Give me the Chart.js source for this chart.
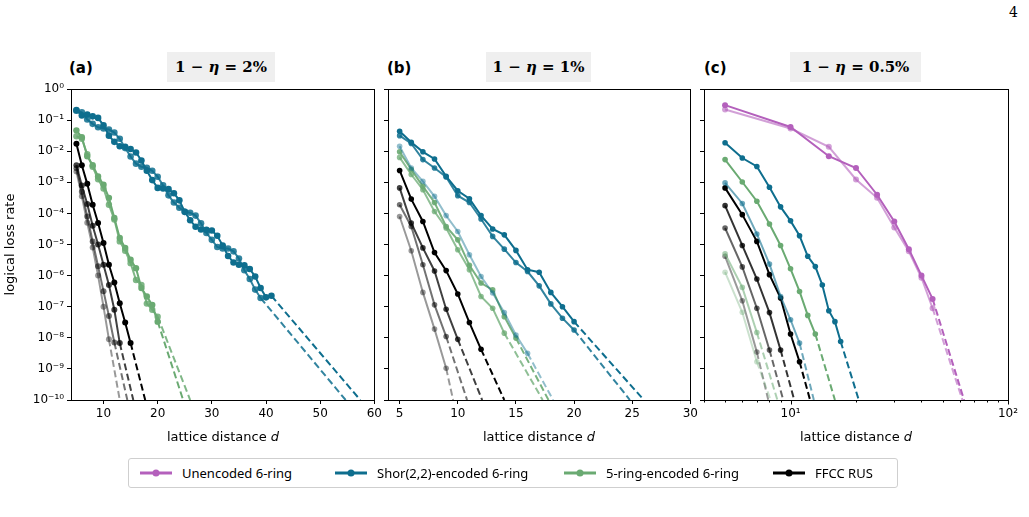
<!DOCTYPE html>
<html>
<head>
<meta charset="utf-8">
<script src="https://cdn.jsdelivr.net/npm/chart.js@4.4.1/dist/chart.umd.min.js"></script>
<style>
  body { margin: 0; width: 1029px; height: 517px; background: #fff; position: relative; overflow: hidden; font-family: "DejaVu Sans", sans-serif; color: #000; }
  canvas { position: absolute; top: 0; }
  .panel { position: absolute; top: 59px; font-size: 15px; font-weight: bold; }
  .eq { position: absolute; top: 52px; height: 30px; line-height: 30px; background: #efefef; text-align: center; font-family: "DejaVu Serif", serif; font-weight: bold; font-size: 15px; }
  .xt { position: absolute; top: 429px; width: 300px; text-align: center; font-size: 13px; }
  .pg { position: absolute; left: 1009px; top: 4px; font-family: "DejaVu Serif", serif; font-size: 14px; }
  #legend { position: absolute; left: 128px; top: 458px; width: 770px; height: 30px; border: 1px solid #cfcfcf; border-radius: 3px; box-sizing: border-box; font-family: "Noto Sans", sans-serif; font-size: 13px; }
  .key { position: absolute; top: 9px; }
  .ktxt { position: absolute; top: 5px; }
</style>
</head>
<body>
<div class="pg">4</div>
<div class="panel" style="left:69px">(a)</div>
<div class="panel" style="left:387px">(b)</div>
<div class="panel" style="left:704px">(c)</div>
<div class="eq" style="left:167px;width:108px">1 − <i>η</i> = 2%</div>
<div class="eq" style="left:486px;width:105px">1 − <i>η</i> = 1%</div>
<div class="eq" style="left:790px;width:131px">1 − <i>η</i> = 0.5%</div>

<canvas id="pa" width="385" height="450" style="left:0px"></canvas>
<canvas id="pb" width="322" height="450" style="left:379px"></canvas>
<canvas id="pc" width="333" height="450" style="left:696px"></canvas>

<div class="xt" style="left:73px">lattice distance <i>d</i></div>
<div class="xt" style="left:389px">lattice distance <i>d</i></div>
<div class="xt" style="left:706px">lattice distance <i>d</i></div>

<div id="legend">
  <svg class="key" style="left:11px" width="32" height="10"><line x1="0" y1="5" x2="32" y2="5" stroke="rgb(180,96,188)" stroke-width="3"/><circle cx="16" cy="5" r="3.5" fill="rgb(180,96,188)"/></svg>
  <span class="ktxt" style="left:53px">Unencoded 6-ring</span>
  <svg class="key" style="left:206px" width="32" height="10"><line x1="0" y1="5" x2="32" y2="5" stroke="rgb(14,110,142)" stroke-width="3"/><circle cx="16" cy="5" r="3.5" fill="rgb(14,110,142)"/></svg>
  <span class="ktxt" style="left:248px">Shor(2,2)-encoded 6-ring</span>
  <svg class="key" style="left:435px" width="32" height="10"><line x1="0" y1="5" x2="32" y2="5" stroke="rgb(106,170,114)" stroke-width="3"/><circle cx="16" cy="5" r="3.5" fill="rgb(106,170,114)"/></svg>
  <span class="ktxt" style="left:477px">5-ring-encoded 6-ring</span>
  <svg class="key" style="left:644px" width="32" height="10"><line x1="0" y1="5" x2="32" y2="5" stroke="#000" stroke-width="3"/><circle cx="16" cy="5" r="3.5" fill="#000"/></svg>
  <span class="ktxt" style="left:686px">FFCC RUS</span>
</div>

<script>
// axis ticks
const yExps = [0, -1, -2, -3, -4, -5, -6, -7, -8, -9, -10];
const yLabels = ["10⁰", "10⁻¹", "10⁻²", "10⁻³", "10⁻⁴", "10⁻⁵", "10⁻⁶", "10⁻⁷", "10⁻⁸", "10⁻⁹", "10⁻¹⁰"];
const xTicksA = [10, 20, 30, 40, 50, 60];
const xTicksB = [5, 10, 15, 20, 25, 30];
const xTicksC = [4, 5, 6, 7, 8, 9, 10, 20, 30, 40, 50, 60, 70, 80, 90, 100];
const xMajorC = [10, 100];
const xMajorLabelsC = ["10¹", "10²"];

// lattice distances
const dInt = [5, 6, 7, 8, 9, 10, 11, 12, 13, 14, 15, 16, 17, 18, 19, 20, 21, 22, 23, 24,
  25, 26, 27, 28, 29, 30, 31, 32, 33, 34, 35, 36, 37, 38, 39, 40, 41];
const dPurple = [5, 10, 15, 20, 25, 30, 35, 40, 45];

// colours
const purple = "180,96,188";
const teal = "14,110,142";
const green = "106,170,114";
const black = "0,0,0";

// (a) 1-eta = 2%, log10 of logical loss rate
const aTealDark = [-0.68, -0.85, -0.82, -0.88, -0.93, -1.17, -1.50, -1.70, -1.84, -1.86, -1.93, -2.04, -2.30,
  -2.63, -2.93, -3.18, -3.20, -3.22, -3.35, -3.58, -3.95, -4.22, -4.43, -4.52, -4.53, -4.55, -4.72, -5.03,
  -5.37, -5.58, -5.65, -5.67, -5.79, -6.03, -6.40, -6.70, -6.65];
const aTealLight = [-0.70, -0.75, -0.98, -1.12, -1.23, -1.27, -1.30, -1.40, -1.60, -1.90, -2.17, -2.40, -2.50,
  -2.53, -2.63, -2.82, -3.10, -3.42, -3.65, -3.82, -3.95, -3.98, -4.07, -4.32, -4.63, -4.85, -5.08, -5.13,
  -5.13, -5.22, -5.45, -5.83, -6.11, -6.45, -6.72];
const aGreen1 = [-1.33, -1.55, -2.16, -2.45, -2.81, -3.08, -3.50, -4.15, -4.79, -5.11, -5.49, -5.76, -6.40, -6.67, -6.94, -7.48];
const aGreen2 = [-1.52, -1.60, -2.10, -2.50, -2.90, -3.20, -3.72, -4.20, -4.90, -5.20, -5.60, -6.14, -6.30, -6.90, -7.10, -7.32];
const aBlack1 = [-1.76, -2.45, -3.05, -3.72, -4.31, -4.95, -5.65, -6.22, -6.89, -7.51, -8.17];
const aBlack2 = [-2.45, -3.10, -3.70, -4.40, -5.00, -5.65, -6.30, -7.10, -8.17];
const aBlack3 = [-2.55, -3.30, -4.10, -4.90, -5.70, -6.50, -7.30, -8.15];
const aBlack4 = [-2.65, -3.45, -4.30, -5.10, -6.00, -7.00, -8.05];
// distance where each dashed fit reaches 1e-10
const aTails = [57.4, 54.7, 24.7, 26.0, 17.7, 15.5, 14.4, 13.0];

// (b) 1-eta = 1%
const bTealDark = [-1.36, -1.71, -2.02, -2.25, -2.81, -3.27, -3.53, -4.07, -4.50, -4.69, -5.19, -5.81, -5.89, -6.54, -7.00, -7.48];
const bTealMid = [-1.50, -1.75, -2.27, -2.54, -2.83, -3.43, -3.65, -4.18, -4.74, -5.15, -5.58, -5.87, -6.33, -6.91, -7.37, -7.75];
const bTealLight = [-1.84, -2.54, -2.97, -3.45, -4.07, -4.58, -5.33, -6.03, -6.56, -7.19, -7.91, -8.50];
const bGreen1 = [-2.02, -2.59, -3.13, -3.65, -4.42, -4.85, -5.67, -6.24, -6.46, -7.32, -8.01];
const bGreen2 = [-2.20, -2.75, -3.24, -3.94, -4.47, -5.17, -5.81, -6.67, -7.05, -7.85];
const bBlack1 = [-2.62, -3.54, -4.26, -5.26, -5.84, -6.59, -7.51, -8.37];
const bBlack2 = [-3.18, -4.31, -5.11, -5.85, -7.08, -8.05];
const bBlack3 = [-3.72, -4.42, -5.65, -6.94, -7.96];
const bBlack4 = [-4.10, -5.20, -6.54, -7.72, -8.98];
const bTails = [26.0, 24.8, 18.2, 17.8, 17.3, 14.0, 12.1, 10.8, 9.6];

// (c) 1-eta = 0.5%
const cPurple1 = [-0.52, -1.22, -2.16, -2.54, -3.40, -4.26, -5.15, -6.00, -6.75];
const cPurple2 = [-0.66, -1.27, -1.86, -2.91, -3.50, -4.45, -5.22, -6.07, -7.05];
const cTealDark = [-1.73, -2.22, -2.49, -3.16, -3.79, -4.24, -4.72, -5.38, -5.71, -6.30, -7.13, -7.48, -8.12];
const cTealLight = [-3.02, -3.68, -4.66, -5.63, -6.67, -7.42, -8.17];
const cGreenDark = [-2.27, -2.99, -3.61, -4.34, -5.03, -5.78, -6.51, -7.28, -7.88];
const cGreenLight = [-5.30, -6.38, -7.83];
const cGreenFaint = [-5.89, -7.18, -8.77];
const cBlack1 = [-3.18, -4.04, -4.90, -5.97, -6.72, -7.88, -8.77];
const cBlack2 = [-3.75, -5.03, -6.11, -7.19, -8.39];
const cBlack3 = [-4.47, -5.72, -7.05, -8.39];
const cBlack4 = [-5.38, -6.81, -8.46];
const cTails = [62.8, 61.7, 20.6, 12.8, 16.0, 8.7, 8.1, 12.3, 10.4, 9.26, 7.9];

function makeSeries(ds, logs, color, alpha, tailEnd, radius) {
  const c = "rgba(" + color + "," + alpha + ")";
  const pts = logs.map((v, i) => ({ x: ds[i], y: Math.pow(10, v) }));
  const last = pts[pts.length - 1];
  return [
    { data: pts, borderColor: c, backgroundColor: c, borderWidth: 2, pointRadius: radius, pointBorderWidth: 0, pointHoverRadius: radius },
    { data: [last, { x: tailEnd, y: 1e-10 }], borderColor: c, borderWidth: 2, borderDash: [7, 3.5], pointRadius: 0 },
  ];
}

const frame = {
  id: "frame",
  afterDraw(chart) {
    const a = chart.chartArea;
    const ctx = chart.ctx;
    ctx.save();
    ctx.strokeStyle = "#000";
    ctx.lineWidth = 1;
    ctx.strokeRect(Math.round(a.left) + 0.5, Math.round(a.top) + 0.5, Math.round(a.right - a.left), Math.round(a.bottom - a.top));
    if (chart.canvas.id === "pc") {
      const sx = chart.scales.x;
      xTicksC.forEach((v) => {
        const x = Math.round(sx.getPixelForValue(v)) + 0.5;
        const len = xMajorC.includes(v) ? 4 : 2;
        ctx.beginPath();
        ctx.moveTo(x, Math.round(a.bottom) + 0.5);
        ctx.lineTo(x, Math.round(a.bottom) + 0.5 + len);
        ctx.stroke();
      });
    }
    ctx.restore();
  },
};

function yScale(showLabels, width) {
  return {
    type: "logarithmic",
    min: 1e-10,
    max: 1,
    afterBuildTicks: (s) => { s.ticks = yExps.map((e) => ({ value: Math.pow(10, e) })); },
    afterFit: (s) => { s.width = width; },
    ticks: {
      autoSkip: false,
      color: "#000",
      padding: 3,
      font: { family: "DejaVu Sans", size: 12 },
      callback: (v, i) => (showLabels ? yLabels[i] : ""),
    },
    grid: { drawOnChartArea: false, tickLength: 4, color: "#000" },
    border: { color: "#000" },
    title: { display: showLabels, text: "logical loss rate", color: "#000", font: { family: "DejaVu Sans", size: 13 }, padding: 3 },
  };
}

function xScale(type, min, max, tickVals, labelFn, drawTicks) {
  return {
    type: type,
    min: min,
    max: max,
    afterBuildTicks: (s) => { s.ticks = tickVals.map((v) => ({ value: v })); },
    afterFit: (s) => { s.height = 50; },
    ticks: {
      autoSkip: false,
      maxRotation: 0,
      color: "#000",
      padding: drawTicks ? 3 : 7,
      font: { family: "DejaVu Sans", size: 12 },
      callback: labelFn,
    },
    grid: { drawOnChartArea: false, drawTicks: drawTicks, tickLength: 4, color: "#000" },
    border: { color: "#000" },
  };
}

function makeChart(id, datasets, xs, ys, padRight) {
  const ctx = document.getElementById(id).getContext("2d");
  return new Chart(ctx, {
    type: "line",
    data: { datasets: datasets },
    options: {
      responsive: false,
      animation: false,
      devicePixelRatio: 1,
      layout: { padding: { top: 89, right: padRight, bottom: 0, left: 0 } },
      elements: { line: { tension: 0 } },
      plugins: { legend: { display: false }, tooltip: { enabled: false } },
      scales: { x: xs, y: ys },
    },
    plugins: [frame],
  });
}

// panel (a)
const aSets = [].concat(
  makeSeries(dInt, aTealDark, teal, 1, aTails[0], 3.3),
  makeSeries(dInt, aTealLight, teal, 0.85, aTails[1], 3.3),
  makeSeries(dInt, aGreen1, green, 1, aTails[2], 3.2),
  makeSeries(dInt, aGreen2, green, 0.85, aTails[3], 3.2),
  makeSeries(dInt, aBlack1, black, 1, aTails[4], 3),
  makeSeries(dInt, aBlack2, black, 0.75, aTails[5], 3),
  makeSeries(dInt, aBlack3, black, 0.55, aTails[6], 3),
  makeSeries(dInt, aBlack4, black, 0.4, aTails[7], 3)
);
makeChart("pa", aSets, xScale("linear", 4, 60, xTicksA, (v) => v, true), yScale(true, 71), 10);

// panel (b)
const bSets = [].concat(
  makeSeries(dInt, bTealDark, teal, 1, bTails[0], 2.8),
  makeSeries(dInt, bTealMid, teal, 0.85, bTails[1], 2.8),
  makeSeries(dInt, bTealLight, teal, 0.45, bTails[2], 2.8),
  makeSeries(dInt, bGreen1, green, 0.9, bTails[3], 2.8),
  makeSeries(dInt, bGreen2, green, 0.75, bTails[4], 2.8),
  makeSeries(dInt, bBlack1, black, 1, bTails[5], 2.8),
  makeSeries(dInt, bBlack2, black, 0.75, bTails[6], 2.8),
  makeSeries(dInt, bBlack3, black, 0.55, bTails[7], 2.8),
  makeSeries(dInt, bBlack4, black, 0.4, bTails[8], 2.8)
);
makeChart("pb", bSets, xScale("linear", 4, 30, xTicksB, (v) => v, true), yScale(false, 9), 10);

// panel (c)
const cSets = [].concat(
  makeSeries(dPurple, cPurple1, purple, 1, cTails[0], 3),
  makeSeries(dPurple, cPurple2, purple, 0.6, cTails[1], 3),
  makeSeries(dInt, cTealDark, teal, 1, cTails[2], 2.8),
  makeSeries(dInt, cTealLight, teal, 0.6, cTails[3], 2.8),
  makeSeries(dInt, cGreenDark, green, 1, cTails[4], 2.8),
  makeSeries(dInt, cGreenLight, green, 0.55, cTails[5], 2.8),
  makeSeries(dInt, cGreenFaint, green, 0.35, cTails[6], 2.8),
  makeSeries(dInt, cBlack1, black, 1, cTails[7], 2.8),
  makeSeries(dInt, cBlack2, black, 0.8, cTails[8], 2.8),
  makeSeries(dInt, cBlack3, black, 0.6, cTails[9], 2.8),
  makeSeries(dInt, cBlack4, black, 0.4, cTails[10], 2.8)
);
makeChart("pc", cSets,
  xScale("logarithmic", 4, 100, xTicksC, (v) => { const k = xMajorC.indexOf(v); return k >= 0 ? xMajorLabelsC[k] : ""; }, false),
  yScale(false, 8), 21);
</script>
</body>
</html>
